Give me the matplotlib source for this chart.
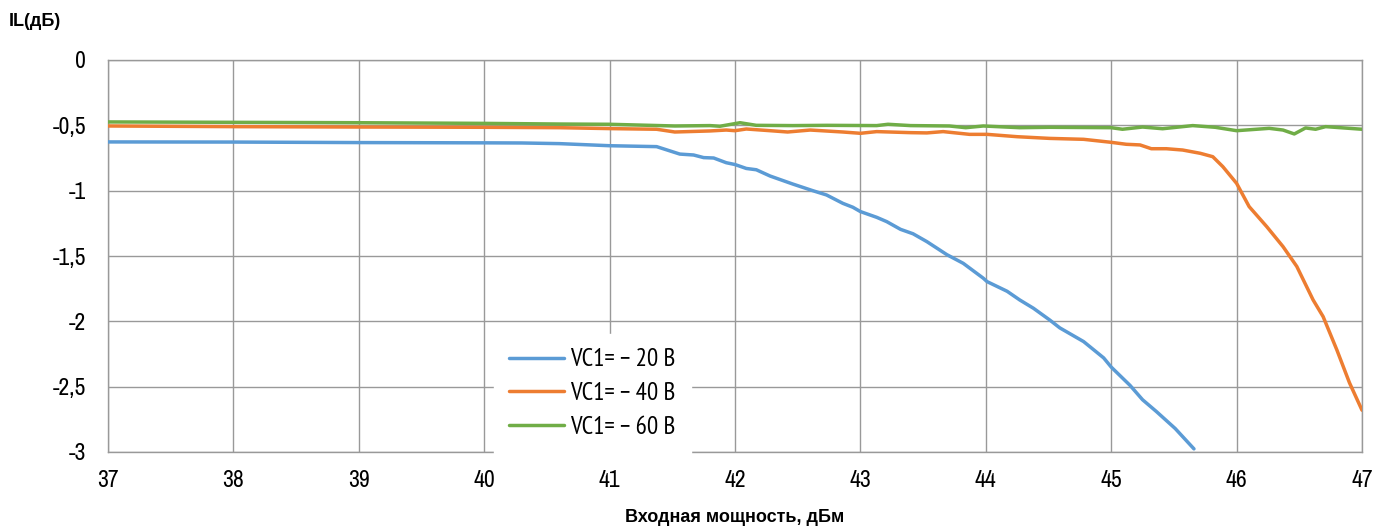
import matplotlib
matplotlib.use("Agg")
import matplotlib.pyplot as plt
from matplotlib import font_manager

names = {f.name for f in font_manager.fontManager.ttflist}


def pick(cands, default="Liberation Sans"):
    for c in cands:
        if c in names:
            return c
    return default


narrow = pick(["Liberation Sans Narrow", "Arial Narrow", "Archivo Narrow", "PT Sans Narrow",
               "Roboto Condensed", "Pragati Narrow", "Open Sans Condensed"])
narrow_cyr = pick(["Liberation Sans Narrow", "Arial Narrow", "PT Sans Narrow", "Roboto Condensed",
                   "Open Sans Condensed", "IBM Plex Sans Condensed", "Fira Sans Condensed"])

x_blue = [37.0, 38.0, 39.0, 40.0, 40.3, 40.6, 41.0, 41.375, 41.56, 41.67, 41.75, 41.83, 41.93, 42.0,
          42.09, 42.17, 42.28, 42.46, 42.62, 42.73, 42.86, 42.94, 43.0, 43.13, 43.21, 43.32,
          43.42, 43.53, 43.69, 43.82, 43.98, 44.01, 44.17, 44.27, 44.38, 44.51, 44.59, 44.78,
          44.94, 45.0, 45.15, 45.25, 45.36, 45.51, 45.66]
y_blue = [-0.627, -0.628, -0.632, -0.634, -0.635, -0.64, -0.656, -0.663, -0.72, -0.727, -0.747, -0.75,
          -0.786, -0.80, -0.83, -0.84, -0.888, -0.949, -1.0, -1.033, -1.097, -1.127, -1.16,
          -1.204, -1.237, -1.296, -1.33, -1.39, -1.49, -1.556, -1.67, -1.696, -1.77, -1.836,
          -1.9, -1.99, -2.05, -2.155, -2.28, -2.35, -2.49, -2.60, -2.69, -2.82, -2.976]

x_orange = [37.0, 38.0, 39.0, 40.0, 40.6, 41.0, 41.375, 41.52, 41.8, 41.93, 42.0, 42.09, 42.28, 42.42,
            42.6, 42.86, 43.0, 43.13, 43.4, 43.53, 43.66, 43.87, 44.01, 44.25, 44.51, 44.78,
            45.0, 45.12, 45.23, 45.32, 45.44, 45.57, 45.71, 45.81, 45.89, 46.0, 46.1, 46.24,
            46.37, 46.48, 46.61, 46.69, 46.8, 46.9, 47.0]
y_orange = [-0.505, -0.51, -0.513, -0.515, -0.518, -0.525, -0.53, -0.551, -0.543, -0.536, -0.541,
            -0.528, -0.541, -0.551, -0.536, -0.551, -0.561, -0.548, -0.556, -0.558, -0.548,
            -0.569, -0.569, -0.587, -0.6, -0.607, -0.63, -0.645, -0.65, -0.679, -0.679, -0.689,
            -0.714, -0.74, -0.816, -0.944, -1.122, -1.275, -1.428, -1.58, -1.836, -1.964,
            -2.22, -2.47, -2.68]

x_green = [37.0, 38.0, 39.0, 40.0, 40.6, 41.0, 41.52, 41.8, 41.88, 42.04, 42.17, 42.46, 42.73, 43.13,
           43.22, 43.4, 43.71, 43.84, 43.98, 44.27, 44.51, 45.0, 45.09, 45.25, 45.41, 45.65,
           45.83, 46.0, 46.26, 46.37, 46.46, 46.55, 46.63, 46.71, 47.0]
y_green = [-0.474, -0.477, -0.48, -0.485, -0.49, -0.492, -0.505, -0.502, -0.507, -0.48, -0.5,
           -0.502, -0.5, -0.502, -0.492, -0.502, -0.505, -0.518, -0.505, -0.518, -0.515,
           -0.518, -0.53, -0.513, -0.526, -0.502, -0.515, -0.541, -0.523, -0.536, -0.566,
           -0.52, -0.53, -0.51, -0.53]

labels = ["VC1= \u2212 20 В", "VC1= \u2212 40 В", "VC1= \u2212 60 В"]
colors = ["#5B9BD5", "#ED7D31", "#70AD47"]
x_ticks = list(range(37, 48))
y_ticks = [0, -0.5, -1, -1.5, -2, -2.5, -3]
y_tick_labels = ["0", "-0,5", "-1", "-1,5", "-2", "-2,5", "-3"]

W, H = 1389, 531
fig = plt.figure(figsize=(W / 100, H / 100), dpi=100)
ax = fig.add_axes([108 / W, 1 - 452 / H, (1362 - 108) / W, (452 - 60) / H])

for xs, ys, c, lab in zip([x_blue, x_orange, x_green], [y_blue, y_orange, y_green], colors, labels):
    ax.plot(xs, ys, color=c, lw=2.5, label=lab, solid_capstyle="round", zorder=3)

ax.set_xlim(37, 47)
ax.set_ylim(-3, 0)
ax.set_xticks(x_ticks)
ax.set_xticklabels([str(t) for t in x_ticks], fontsize=17, family=[narrow, "Liberation Sans"])
ax.set_yticks(y_ticks)
ax.set_yticklabels(y_tick_labels, fontsize=17, family=[narrow, "Liberation Sans"])
ax.tick_params(length=0)
ax.tick_params(axis="x", pad=13)
ax.tick_params(axis="y", pad=16)
ax.grid(True, color="#999999", lw=1.0)
for s in ax.spines.values():
    s.set_color("#999999")
    s.set_linewidth(1.0)

fig.text(735 / W, 1 - 521.7 / H, "Входная мощность, дБм", ha="center", va="baseline",
         fontsize=13, fontweight="bold", family=["Liberation Sans", "DejaVu Sans"])
fig.text(9 / W, 1 - 26.5 / H, "IL(дБ)", ha="left", va="baseline",
         fontsize=13, fontweight="bold", family=["Liberation Sans", "DejaVu Sans"])

leg = ax.legend(loc="center", bbox_to_anchor=((592.5 - 108) / 1254, (452 - 393.5) / 392),
                frameon=True, fancybox=False, edgecolor="white", framealpha=1.0,
                prop={"family": [narrow_cyr, "Liberation Sans"], "size": 18},
                handlelength=2.2, handletextpad=0.25, labelspacing=0.42, borderpad=0.6)

fig.savefig("out.png", dpi=100)
